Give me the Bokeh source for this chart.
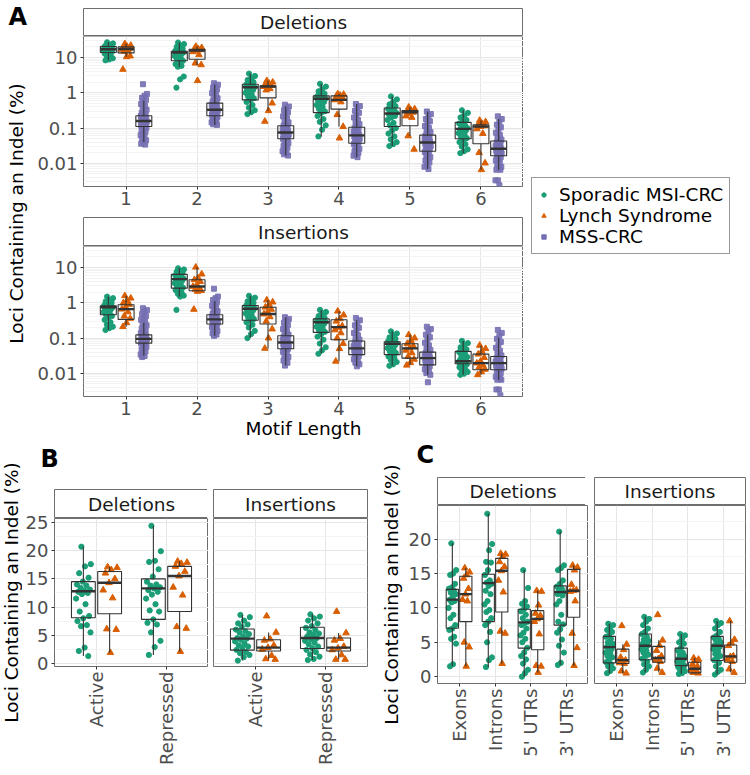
import math
from bokeh.plotting import figure
from bokeh.layouts import row, column
from bokeh.models import Range1d, FixedTicker, CustomJSTickFormatter, Legend, LegendItem, Plot
from bokeh.core.properties import value
from bokeh.embed import file_html
from bokeh.resources import INLINE

FONT = "DejaVu Sans"
GREEN, ORANGE, PURPLE = "#1B9E77", "#D95F02", "#7570B3"
BOXC = "#333333"
BORDER = "#6E6E6E"
GRID = "#E6E6E6"
GRID_MINOR = "#F3F3F3"
TICK_TXT = "#4D4D4D"
TICK_FS = "18px"
TEXT_FS = "18.5px"
HAS_FRAME_ALIGN = "frame_align" in Plot.properties()
LETTER_LIFT = 9   # bold panel letters render a little below their anchor

GROUP_NAMES = ["Sporadic MSI-CRC", "Lynch Syndrome", "MSS-CRC"]
MOTIF_LENGTHS = ["1", "2", "3", "4", "5", "6"]
CHROMATIN = ["Active", "Repressed"]
REGIONS = ["Exons", "Introns", "5' UTRs", "3' UTRs"]
FACETS = ["Deletions", "Insertions"]
LOG_TICKS = [0.01, 0.1, 1, 10]
B_TICKS = [0, 5, 10, 15, 20, 25]
C_TICKS = [0, 5, 10, 15, 20]

# ---------------- Panel A: Deletions (box = lo, q1, median, q3, hi) ----------------
A_DEL_SPORADIC = [
    [27, 25, 23.5, 22, 21, 20.5, 20, 19.5, 19, 18, 17.5, 17.2, 17, 16.5, 16, 15.5, 15, 14.5, 14, 13, 12, 10.5, 9.5, 8.8, 8.3],
    [26.6, 24, 22, 20, 18, 16.5, 15.5, 15, 14.5, 14, 13.9, 13.5, 13, 12, 11, 10, 9, 8.1, 7.5, 6.5, 5.8, 5.5, 2.9, 2.4, 1.4],
    [3.5, 3.0, 2.6, 2.3, 2.0, 1.8, 1.7, 1.6, 1.5, 1.44, 1.38, 1.3, 1.2, 1.1, 1.0, 0.9, 0.8, 0.7, 0.63, 0.55, 0.45, 0.38, 0.32, 0.28, 0.25],
    [1.8, 1.5, 1.3, 1.1, 0.95, 0.85, 0.8, 0.75, 0.7, 0.68, 0.65, 0.6, 0.55, 0.5, 0.45, 0.4, 0.35, 0.3, 0.27, 0.22, 0.18, 0.15, 0.12, 0.09, 0.058],
    [0.79, 0.65, 0.55, 0.47, 0.42, 0.38, 0.35, 0.32, 0.29, 0.27, 0.26, 0.24, 0.22, 0.2, 0.17, 0.14, 0.12, 0.1, 0.085, 0.07, 0.058, 0.048, 0.04, 0.035, 0.031],
    [0.32, 0.27, 0.23, 0.2, 0.17, 0.15, 0.135, 0.12, 0.11, 0.1, 0.095, 0.09, 0.085, 0.08, 0.072, 0.065, 0.058, 0.052, 0.045, 0.04, 0.035, 0.03, 0.025, 0.022, 0.0195],
]
A_DEL_SPORADIC_BOX = [(8.3, 13.9, 17.2, 20.5, 27), (5.5, 8.1, 13.9, 15, 26.6), (0.25, 0.63, 1.44, 1.75, 3.5),
                      (0.058, 0.275, 0.68, 0.82, 1.8), (0.031, 0.111, 0.26, 0.37, 0.79), (0.0195, 0.05, 0.095, 0.145, 0.32)]
A_DEL_LYNCH = [
    [24.5, 22, 20.5, 19, 18, 17.5, 17, 16, 15, 11, 10.5, 4.6],
    [20.5, 19, 17.8, 17, 16.5, 15.8, 14.5, 12, 6.9, 6.2, 2.2],
    [2.2, 2.0, 1.85, 1.7, 1.6, 1.55, 1.5, 1.3, 1.2, 0.51, 0.31, 0.155],
    [0.93, 0.9, 0.85, 0.8, 0.75, 0.7, 0.63, 0.55, 0.24, 0.11, 0.052],
    [0.39, 0.35, 0.32, 0.3, 0.28, 0.26, 0.22, 0.2, 0.06, 0.025],
    [0.165, 0.15, 0.135, 0.125, 0.115, 0.11, 0.095, 0.07, 0.02, 0.0102, 0.0066],
]
A_DEL_LYNCH_BOX = [(10.5, 13.5, 17.5, 20, 24.5), (6.0, 8.9, 15.8, 17.2, 20.5), (0.31, 0.72, 1.5, 1.58, 2.2),
                   (0.11, 0.345, 0.63, 0.82, 0.93), (0.06, 0.116, 0.28, 0.316, 0.39), (0.0066, 0.036, 0.11, 0.123, 0.165)]
A_DEL_MSS = [
    [1.75, 0.93, 0.82, 0.72, 0.63, 0.55, 0.48, 0.42, 0.37, 0.33, 0.30, 0.27, 0.25, 0.235, 0.22, 0.21, 0.20, 0.19, 0.18, 0.172, 0.165,
     0.158, 0.152, 0.146, 0.14, 0.134, 0.128, 0.122, 0.116, 0.11, 0.102, 0.094, 0.086, 0.078, 0.07, 0.063, 0.056, 0.05, 0.045, 0.04, 0.036, 0.034],
    [1.87, 1.7, 1.55, 1.4, 1.25, 1.1, 0.98, 0.88, 0.78, 0.7, 0.63, 0.57, 0.52, 0.49, 0.46, 0.43, 0.41, 0.39, 0.37, 0.35, 0.335,
     0.32, 0.31, 0.295, 0.28, 0.265, 0.25, 0.24, 0.228, 0.22, 0.205, 0.19, 0.178, 0.166, 0.155, 0.145, 0.136, 0.128, 0.123],
    [0.46, 0.41, 0.36, 0.32, 0.28, 0.245, 0.215, 0.19, 0.165, 0.145, 0.128, 0.118, 0.11, 0.103, 0.097, 0.091, 0.086, 0.081, 0.077, 0.074,
     0.071, 0.068, 0.065, 0.062, 0.059, 0.056, 0.053, 0.05, 0.046, 0.042, 0.038, 0.034, 0.031, 0.028, 0.025, 0.022, 0.02, 0.018, 0.0166],
    [0.48, 0.42, 0.36, 0.31, 0.27, 0.23, 0.2, 0.17, 0.148, 0.128, 0.112, 0.102, 0.094, 0.087, 0.08, 0.074, 0.069, 0.065, 0.062, 0.059,
     0.056, 0.053, 0.05, 0.047, 0.044, 0.041, 0.038, 0.035, 0.032, 0.029, 0.026, 0.024, 0.022, 0.02, 0.018, 0.0165, 0.015],
    [0.295, 0.25, 0.21, 0.18, 0.155, 0.133, 0.115, 0.1, 0.088, 0.077, 0.068, 0.062, 0.057, 0.053, 0.049, 0.046, 0.043, 0.041, 0.039,
     0.037, 0.035, 0.033, 0.031, 0.029, 0.027, 0.025, 0.023, 0.021, 0.019, 0.017, 0.015, 0.0135, 0.012, 0.0105, 0.0092, 0.008, 0.0069],
    [0.215, 0.18, 0.15, 0.125, 0.105, 0.088, 0.074, 0.063, 0.054, 0.047, 0.042, 0.039, 0.036, 0.033, 0.031, 0.029, 0.027, 0.026, 0.025,
     0.023, 0.022, 0.02, 0.019, 0.0175, 0.0164, 0.015, 0.0135, 0.012, 0.0105, 0.0092, 0.008, 0.0072, 0.0066, 0.0066, 0.0033, 0.0033, 0.0024],
]
A_DEL_MSS_BOX = [(0.04, 0.111, 0.158, 0.223, 0.6), (0.123, 0.224, 0.33, 0.51, 1.7), (0.0166, 0.05, 0.075, 0.116, 0.41),
                 (0.015, 0.037, 0.062, 0.106, 0.48), (0.0069, 0.022, 0.039, 0.063, 0.295), (0.0066, 0.0164, 0.026, 0.043, 0.18)]

# ---------------- Panel A: Insertions ----------------
A_INS_SPORADIC = [
    [1.5, 1.35, 1.2, 1.1, 1.0, 0.92, 0.85, 0.8, 0.78, 0.75, 0.72, 0.7, 0.66, 0.6, 0.55, 0.5, 0.46, 0.42, 0.38, 0.33, 0.28, 0.24, 0.21, 0.19, 0.17],
    [9.5, 8.8, 8.2, 7.6, 7.0, 6.5, 6.0, 5.6, 5.2, 4.9, 4.7, 4.5, 4.2, 3.9, 3.6, 3.3, 3.0, 2.7, 2.5, 2.3, 2.0, 1.8, 1.6, 1.5, 0.63],
    [1.58, 1.4, 1.25, 1.1, 1.0, 0.9, 0.84, 0.8, 0.75, 0.7, 0.68, 0.65, 0.6, 0.55, 0.5, 0.45, 0.4, 0.35, 0.32, 0.28, 0.24, 0.2, 0.16, 0.13, 0.1],
    [0.63, 0.55, 0.48, 0.42, 0.38, 0.35, 0.33, 0.31, 0.3, 0.29, 0.28, 0.27, 0.25, 0.23, 0.21, 0.19, 0.17, 0.15, 0.13, 0.11, 0.09, 0.07, 0.055, 0.045, 0.036],
    [0.155, 0.135, 0.12, 0.105, 0.095, 0.088, 0.082, 0.078, 0.075, 0.072, 0.069, 0.066, 0.062, 0.058, 0.052, 0.047, 0.042, 0.038, 0.034, 0.03, 0.027, 0.024, 0.021, 0.018, 0.0164],
    [0.083, 0.072, 0.063, 0.055, 0.048, 0.043, 0.04, 0.036, 0.032, 0.029, 0.026, 0.024, 0.023, 0.022, 0.021, 0.02, 0.019, 0.018, 0.017, 0.015, 0.013, 0.012, 0.011, 0.0098, 0.0091],
]
A_INS_SPORADIC_BOX = [(0.17, 0.46, 0.75, 0.82, 1.5), (1.5, 2.6, 4.7, 6.4, 9.5), (0.1, 0.32, 0.68, 0.84, 1.58),
                      (0.036, 0.145, 0.28, 0.35, 0.63), (0.0164, 0.034, 0.069, 0.079, 0.155), (0.0091, 0.0187, 0.022, 0.042, 0.083)]
A_INS_LYNCH = [
    [1.58, 1.35, 1.15, 1.0, 0.9, 0.75, 0.66, 0.55, 0.42, 0.36, 0.27, 0.21],
    [10.2, 6.5, 5.0, 4.5, 4.0, 3.2, 2.9, 2.6, 2.4, 2.2, 2.1, 0.65],
    [1.2, 1.05, 0.9, 0.75, 0.65, 0.55, 0.48, 0.4, 0.3, 0.18, 0.1, 0.051],
    [0.58, 0.45, 0.35, 0.3, 0.22, 0.2, 0.17, 0.14, 0.1, 0.07, 0.05, 0.022],
    [0.124, 0.1, 0.085, 0.07, 0.06, 0.052, 0.045, 0.038, 0.03, 0.025, 0.02, 0.017],
    [0.062, 0.05, 0.042, 0.035, 0.028, 0.022, 0.0195, 0.017, 0.015, 0.013, 0.011, 0.0091],
]
A_INS_LYNCH_BOX = [(0.21, 0.34, 0.66, 0.88, 1.58), (2.1, 2.2, 2.9, 4.5, 10.2), (0.051, 0.25, 0.48, 0.75, 1.2),
                   (0.022, 0.09, 0.204, 0.33, 0.58), (0.017, 0.027, 0.051, 0.069, 0.124), (0.0091, 0.0127, 0.0195, 0.035, 0.062)]
A_INS_MSS = [
    [0.7, 0.62, 0.55, 0.48, 0.42, 0.37, 0.33, 0.29, 0.26, 0.23, 0.205, 0.185, 0.165, 0.15, 0.138, 0.128, 0.12, 0.114, 0.108, 0.103,
     0.099, 0.095, 0.091, 0.087, 0.083, 0.079, 0.075, 0.071, 0.067, 0.062, 0.057, 0.052, 0.047, 0.042, 0.038, 0.034, 0.031, 0.029],
    [2.5, 1.5, 1.35, 1.2, 1.05, 0.92, 0.82, 0.73, 0.65, 0.58, 0.52, 0.48, 0.45, 0.42, 0.4, 0.38, 0.36, 0.345, 0.33, 0.32,
     0.305, 0.29, 0.275, 0.262, 0.25, 0.235, 0.22, 0.205, 0.19, 0.175, 0.16, 0.148, 0.136, 0.126, 0.116],
    [0.39, 0.35, 0.31, 0.27, 0.235, 0.205, 0.18, 0.158, 0.14, 0.125, 0.115, 0.107, 0.1, 0.094, 0.088, 0.083, 0.079, 0.075,
     0.072, 0.068, 0.065, 0.062, 0.058, 0.055, 0.052, 0.049, 0.045, 0.041, 0.037, 0.033, 0.029, 0.026, 0.023, 0.02, 0.0166],
    [0.37, 0.32, 0.27, 0.23, 0.195, 0.165, 0.14, 0.12, 0.103, 0.09, 0.081, 0.074, 0.068, 0.063, 0.059, 0.055, 0.052, 0.05,
     0.047, 0.045, 0.042, 0.04, 0.038, 0.036, 0.034, 0.031, 0.028, 0.025, 0.022, 0.02, 0.018, 0.0158],
    [0.21, 0.18, 0.15, 0.125, 0.105, 0.088, 0.074, 0.062, 0.053, 0.046, 0.041, 0.038, 0.035, 0.033, 0.031, 0.029, 0.028,
     0.027, 0.026, 0.024, 0.023, 0.022, 0.02, 0.019, 0.0175, 0.016, 0.0145, 0.013, 0.0115, 0.0102, 0.0091, 0.0056],
    [0.17, 0.14, 0.115, 0.095, 0.078, 0.064, 0.053, 0.044, 0.037, 0.032, 0.029, 0.027, 0.025, 0.023, 0.0215, 0.0205, 0.0195,
     0.0185, 0.0175, 0.0165, 0.0155, 0.0145, 0.0135, 0.0127, 0.0115, 0.0102, 0.009, 0.008, 0.0072, 0.0066, 0.0066, 0.0035, 0.0035, 0.0024],
]
A_INS_MSS_BOX = [(0.032, 0.072, 0.095, 0.123, 0.27), (0.116, 0.25, 0.34, 0.46, 1.1), (0.0166, 0.05, 0.075, 0.116, 0.39),
                 (0.0158, 0.034, 0.051, 0.083, 0.32), (0.0091, 0.0174, 0.027, 0.04, 0.125), (0.0066, 0.0127, 0.0195, 0.03, 0.1)]

# ---------------- Panel B: chromatin state ----------------
B_DEL_SPORADIC = [
    [20.7, 17.6, 17.2, 16.0, 15.2, 14.5, 14.0, 13.8, 13.4, 13.1, 12.9, 12.7, 12.5, 12.3, 11.5, 10.5, 9.2, 8.4, 8.0, 7.5, 6.8, 6.6, 5.5, 2.8, 2.2, 1.3],
    [24.4, 19.9, 18.2, 18.0, 16.7, 15.4, 14.5, 14.0, 13.8, 13.5, 13.3, 13.0, 12.7, 12.2, 11.5, 10.5, 9.4, 9.2, 7.8, 7.2, 6.9, 5.5, 4.0, 2.9, 1.5],
]
B_DEL_SPORADIC_BOX = [(1.3, 8.1, 12.8, 14.5, 20.7), (1.5, 7.8, 13.3, 15.0, 24.4)]
B_DEL_LYNCH = [
    [17.1, 17.0, 16.6, 16.0, 15.0, 14.3, 13.0, 11.6, 6.1, 6.0, 1.9],
    [18.1, 17.9, 17.7, 17.2, 16.3, 15.5, 13.5, 12.1, 6.5, 6.2, 2.1],
]
B_DEL_LYNCH_BOX = [(1.9, 8.8, 14.3, 16.3, 17.1), (2.1, 9.2, 15.5, 17.2, 18.1)]
B_INS_SPORADIC = [
    [8.6, 8.2, 7.6, 7.1, 6.9, 6.5, 6.0, 5.7, 5.5, 5.2, 4.8, 4.5, 4.4, 4.2, 3.9, 3.5, 3.2, 3.0, 2.8, 2.4, 2.0, 1.8, 1.5, 1.1, 0.5],
    [8.7, 8.3, 8.0, 7.6, 7.1, 6.6, 6.3, 5.9, 5.5, 5.3, 5.1, 4.8, 4.5, 4.3, 4.0, 3.7, 3.4, 3.0, 2.7, 2.4, 2.0, 1.6, 1.2, 0.8, 0.6],
]
B_INS_SPORADIC_BOX = [(0.5, 2.35, 4.4, 6.1, 8.6), (0.6, 2.65, 4.5, 6.4, 8.7)]
B_INS_LYNCH = [
    [8.4, 5.5, 4.3, 4.1, 3.2, 2.8, 2.5, 1.4, 0.8, 0.7],
    [9.2, 5.4, 4.4, 4.1, 3.0, 2.7, 2.4, 1.5, 0.7, 0.7],
]
B_INS_LYNCH_BOX = [(0.7, 2.2, 2.8, 4.2, 5.5), (0.7, 2.2, 2.8, 4.5, 5.4)]

# ---------------- Panel C: genomic region ----------------
C_DEL_SPORADIC = [
    [19.4, 15.5, 15.0, 14.8, 13.5, 13.0, 12.8, 12.5, 12.2, 12.0, 11.5, 11.2, 11.0, 10.8, 10.0, 9.0, 8.5, 7.5, 7.0, 6.8, 5.8, 5.5, 4.8, 1.8, 1.5],
    [23.7, 19.3, 18.4, 16.7, 16.6, 15.5, 14.8, 14.0, 13.7, 13.5, 13.2, 12.5, 12.0, 11.0, 10.5, 9.7, 9.4, 8.5, 8.0, 7.5, 6.5, 5.0, 2.8, 2.4, 1.4],
    [15.5, 12.9, 11.0, 10.6, 10.2, 9.8, 9.5, 9.0, 8.5, 8.0, 7.8, 7.5, 7.0, 6.4, 6.0, 5.5, 5.0, 4.2, 3.5, 3.0, 2.5, 1.9, 1.0, 0.5, 0.0],
    [21.1, 16.2, 15.8, 15.5, 14.0, 13.5, 13.1, 12.8, 12.5, 12.3, 12.1, 12.0, 11.8, 11.0, 10.5, 9.0, 8.0, 7.6, 6.9, 6.4, 5.4, 4.5, 3.5, 2.0, 1.7],
]
C_DEL_SPORADIC_BOX = [(1.5, 7.05, 11.2, 12.7, 19.4), (1.4, 8.0, 13.6, 14.9, 23.7), (0.0, 4.15, 7.9, 9.8, 15.5), (1.7, 7.5, 12.3, 13.2, 21.1)]
C_DEL_LYNCH = [
    [15.8, 15.2, 14.8, 14.3, 12.8, 12.0, 11.2, 11.0, 5.0, 4.3, 1.5],
    [17.9, 17.8, 17.5, 16.7, 16.0, 15.4, 14.0, 12.3, 6.6, 6.3, 1.9],
    [12.5, 12.4, 10.4, 9.2, 8.9, 8.4, 8.0, 6.2, 1.6, 1.5, 0.6],
    [16.2, 15.9, 15.5, 13.4, 12.6, 12.5, 12.4, 11.0, 6.3, 4.2, 1.6],
]
C_DEL_LYNCH_BOX = [(1.5, 8.0, 12.0, 14.6, 15.8), (1.9, 9.4, 15.4, 17.2, 17.9), (0.6, 3.9, 8.4, 9.6, 12.5), (1.6, 8.65, 12.5, 15.6, 16.2)]
C_INS_SPORADIC = [
    [7.7, 7.5, 7.2, 6.8, 6.5, 6.0, 5.8, 5.5, 5.0, 4.8, 4.5, 4.3, 4.0, 3.7, 3.5, 3.3, 3.0, 2.8, 2.5, 2.1, 1.8, 1.5, 1.2, 0.8, 0.5],
    [8.7, 8.4, 8.0, 7.5, 7.0, 6.5, 6.2, 5.8, 5.4, 5.2, 5.0, 4.8, 4.5, 4.3, 4.0, 3.8, 3.5, 3.2, 3.0, 2.6, 2.2, 1.8, 1.5, 1.0, 0.6],
    [6.2, 6.0, 5.5, 5.0, 4.8, 4.2, 3.8, 3.5, 3.2, 3.0, 2.8, 2.6, 2.5, 2.3, 2.2, 2.0, 1.8, 1.6, 1.5, 1.4, 1.2, 1.0, 0.8, 0.5, 0.4],
    [8.1, 7.8, 7.5, 7.0, 6.5, 6.0, 5.7, 5.5, 5.3, 5.0, 4.7, 4.5, 4.3, 4.2, 4.0, 3.6, 3.3, 3.0, 2.7, 2.4, 2.0, 1.5, 1.0, 0.7, 0.3],
]
C_INS_SPORADIC_BOX = [(0.5, 2.0, 4.3, 5.85, 7.7), (0.6, 2.45, 4.5, 6.2, 8.7), (0.4, 1.6, 2.6, 4.15, 6.2), (0.3, 2.35, 4.5, 5.85, 8.1)]
C_INS_LYNCH = [
    [7.4, 4.7, 3.9, 2.8, 2.4, 2.2, 2.0, 1.9, 0.8, 0.5],
    [9.0, 5.3, 4.5, 3.8, 3.0, 2.6, 2.4, 2.2, 1.2, 0.6],
    [2.7, 2.5, 2.3, 1.8, 1.5, 1.2, 1.0, 0.8, 0.6, 0.5],
    [8.1, 5.4, 4.9, 4.5, 3.0, 2.9, 2.5, 2.2, 1.1, 0.6],
]
C_INS_LYNCH_BOX = [(0.5, 1.9, 2.4, 4.0, 4.7), (0.6, 2.1, 2.7, 4.4, 5.3), (0.5, 0.55, 1.15, 2.1, 2.7), (0.6, 2.1, 2.95, 4.6, 8.1)]

MARKERS = {"Sporadic MSI-CRC": ("circle", GREEN, 5.2, 1.0),
           "Lynch Syndrome": ("triangle", ORANGE, 6.5, 1.0),
           "MSS-CRC": ("square", PURPLE, 5.0, 0.9)}


def jitter_offsets(n, half):
    return [half * (2.0 * ((i * 0.6180339887 + 0.37) % 1.0) - 1.0) for i in range(n)]


def blank(w, h):
    p = figure(width=w, height=h, x_range=Range1d(0, w), y_range=Range1d(0, h),
               x_axis_location=None, y_axis_location=None, toolbar_location=None,
               output_backend="svg", min_border=0)
    p.grid.visible = False
    p.outline_line_color = None
    p.background_fill_color = "white"
    p.border_fill_color = "white"
    if HAS_FRAME_ALIGN:
        p.frame_align = False
    return p


def put_text(p, x, y, txt, size, bold=False, angle=0.0, align="left", baseline="alphabetic"):
    p.text(x=[x], y=[y], text=[txt], angle=angle, text_align=align, text_baseline=baseline,
           text_font=value(FONT), text_font_size=size, text_font_style="bold" if bold else "normal",
           text_color="black")


def strip(frame_w, frame_h, left, right, label, top=0):
    p = figure(frame_width=frame_w, frame_height=frame_h, x_range=Range1d(0, 1), y_range=Range1d(0, 1),
               x_axis_location=None, y_axis_location=None, toolbar_location=None, output_backend="svg",
               min_border_left=left, min_border_right=right, min_border_top=top, min_border_bottom=0)
    p.grid.visible = False
    p.outline_line_color = BORDER
    p.outline_line_width = 1
    p.text(x=[0.5], y=[0.5], text=[label], text_align="center", text_baseline="middle",
           text_font=value(FONT), text_font_size=TEXT_FS, text_color="#1A1A1A")
    return p


def panel(frame_w, frame_h, ncat, y_range, log, left, right, bottom, show_y, yticks, yminor, xlabels, rotate, top=0):
    p = figure(frame_width=frame_w, frame_height=frame_h, x_range=Range1d(0.4, ncat + 0.6), y_range=y_range,
               y_axis_type="log" if log else "linear", y_axis_location="left" if show_y else None,
               toolbar_location=None, output_backend="svg",
               min_border_left=left, min_border_right=right, min_border_top=top, min_border_bottom=bottom)
    p.background_fill_color = "white"
    p.border_fill_color = "white"
    p.outline_line_color = BORDER
    p.outline_line_width = 1
    yt = FixedTicker(ticks=yticks, minor_ticks=yminor)
    xt = FixedTicker(ticks=list(range(1, ncat + 1)), minor_ticks=[])
    p.xgrid.ticker = xt
    p.ygrid.ticker = yt
    for g in (p.xgrid[0], p.ygrid[0]):
        g.grid_line_color = GRID
        g.grid_line_width = 1
    p.ygrid.minor_grid_line_color = GRID_MINOR
    p.ygrid.minor_grid_line_width = 1
    axes = [p.xaxis[0]] + ([p.yaxis[0]] if show_y else [])
    p.xaxis.ticker = xt
    p.xaxis.major_label_overrides = {i + 1: lab for i, lab in enumerate(xlabels)}
    if show_y:
        p.yaxis.ticker = yt
        if log:
            p.yaxis.formatter = CustomJSTickFormatter(code="return String(tick);")
    for ax in axes:
        ax.axis_line_color = None
        ax.major_tick_line_color = BOXC
        ax.major_tick_out = 3
        ax.major_tick_in = 0
        ax.minor_tick_line_color = None
        ax.major_label_standoff = 2
        ax.major_label_text_font = FONT
        ax.major_label_text_font_size = TICK_FS
        ax.major_label_text_color = TICK_TXT
        ax.axis_label_text_font = FONT
        ax.axis_label_text_font_size = TEXT_FS
        ax.axis_label_text_font_style = "normal"
        ax.axis_label_text_color = "black"
        ax.axis_label_standoff = 0
    if rotate:
        p.xaxis.major_label_orientation = math.pi / 2
    return p


def draw_series(p, series, offsets, box_w, jit_frac):
    for (name, pts, boxes), off in zip(series, offsets):
        marker, color, size, alpha = MARKERS[name]
        xs, ys = [], []
        jf = jit_frac[name]
        for ci, vals in enumerate(pts):
            for v, o in zip(vals, jitter_offsets(len(vals), jf * box_w)):
                xs.append(ci + 1 + off + o)
                ys.append(v)
        p.scatter(xs, ys, marker=marker, size=size, fill_color=color, line_color=color,
                  fill_alpha=alpha, line_alpha=alpha)
    for (name, pts, boxes), off in zip(series, offsets):
        bx = [ci + 1 + off for ci in range(len(boxes))]
        lo = [b[0] for b in boxes]
        q1 = [b[1] for b in boxes]
        md = [b[2] for b in boxes]
        q3 = [b[3] for b in boxes]
        hi = [b[4] for b in boxes]
        p.segment(x0=bx, y0=q3, x1=bx, y1=hi, line_color=BOXC, line_width=1.1)
        p.segment(x0=bx, y0=lo, x1=bx, y1=q1, line_color=BOXC, line_width=1.1)
        p.vbar(x=bx, width=box_w, top=q3, bottom=q1, fill_color=None, line_color=BOXC, line_width=1.1)
        p.segment(x0=[x - box_w / 2 for x in bx], y0=md, x1=[x + box_w / 2 for x in bx], y1=md,
                  line_color=BOXC, line_width=2.4)


LOG_MINOR = [m * 10.0 ** e for e in range(-3, 2) for m in range(2, 10)]
LIN_MINOR = [2.5, 7.5, 12.5, 17.5, 22.5]
A_RANGE = (0.00221, 39.4)
JIT_A = {"Sporadic MSI-CRC": 0.3, "Lynch Syndrome": 0.3, "MSS-CRC": 0.2}
JIT_BC = {"Sporadic MSI-CRC": 0.32, "Lynch Syndrome": 0.32}

# ---------------- Top row: panel A ----------------
TOP_H = 446
a_lab = blank(30, TOP_H)
put_text(a_lab, 8, TOP_H - 25 + LETTER_LIFT, "A", "24px", bold=True)
put_text(a_lab, 16, TOP_H - 213, "Loci Containing an Indel (%)", TEXT_FS, angle=math.pi / 2,
         align="center", baseline="middle")

a_del = panel(440, 150, 6, Range1d(*A_RANGE), True, 53, 0, 31, True, LOG_TICKS, LOG_MINOR, MOTIF_LENGTHS, False)
draw_series(a_del, [("Sporadic MSI-CRC", A_DEL_SPORADIC, A_DEL_SPORADIC_BOX),
                    ("Lynch Syndrome", A_DEL_LYNCH, A_DEL_LYNCH_BOX),
                    ("MSS-CRC", A_DEL_MSS, A_DEL_MSS_BOX)], [-0.25, 0.0, 0.25], 0.225, JIT_A)
a_ins = panel(440, 150, 6, Range1d(*A_RANGE), True, 53, 0, 50, True, LOG_TICKS, LOG_MINOR, MOTIF_LENGTHS, False)
draw_series(a_ins, [("Sporadic MSI-CRC", A_INS_SPORADIC, A_INS_SPORADIC_BOX),
                    ("Lynch Syndrome", A_INS_LYNCH, A_INS_LYNCH_BOX),
                    ("MSS-CRC", A_INS_MSS, A_INS_MSS_BOX)], [-0.25, 0.0, 0.25], 0.225, JIT_A)
a_ins.xaxis.axis_label = "Motif Length"

a_col = column(strip(440, 28, 53, 0, FACETS[0], top=8), a_del, strip(440, 29, 53, 0, FACETS[1]), a_ins, spacing=0)

leg_fig = blank(219, TOP_H)
leg_items = []
for name in GROUP_NAMES:
    marker, color, size, alpha = MARKERS[name]
    r = leg_fig.scatter(x=[-1000], y=[-1000], marker=marker, size=size, fill_color=color, line_color=color)
    leg_items.append(LegendItem(label=name, renderers=[r]))
legend = Legend(items=leg_items, location=(8, TOP_H - 254), orientation="vertical",
                border_line_color="#333333", border_line_width=1, background_fill_color="white",
                background_fill_alpha=1.0, padding=6, spacing=0, margin=0,
                label_text_font=FONT, label_text_font_size=TEXT_FS, label_text_color="black",
                label_height=19, glyph_height=19, glyph_width=11, label_standoff=10)
leg_fig.add_layout(legend)

top_row = row(a_lab, a_col, leg_fig, spacing=0)

# ---------------- Bottom row: panels B and C ----------------
BOT_H = 321
OVER = 10   # plot canvas reaches up behind the strip so top tick labels are not cut
b_lab = blank(22, BOT_H)
put_text(b_lab, 11, BOT_H - 146, "Loci Containing an Indel (%)", TEXT_FS, angle=math.pi / 2,
         align="center", baseline="middle")
b_head = blank(185, 43)
put_text(b_head, 18, 22 + LETTER_LIFT, "B", "24px", bold=True)

b_yr = (-0.55, 25.7)
b_del = panel(154, 148, 2, Range1d(*b_yr), False, 31, 0, 101, True, B_TICKS, LIN_MINOR, CHROMATIN, True, top=OVER)
draw_series(b_del, [("Sporadic MSI-CRC", B_DEL_SPORADIC, B_DEL_SPORADIC_BOX),
                    ("Lynch Syndrome", B_DEL_LYNCH, B_DEL_LYNCH_BOX)], [-0.1875, 0.1875], 0.34, JIT_BC)
b_ins = panel(154, 148, 2, Range1d(*b_yr), False, 5, 2, 101, False, B_TICKS, LIN_MINOR, CHROMATIN, True, top=OVER)
draw_series(b_ins, [("Sporadic MSI-CRC", B_INS_SPORADIC, B_INS_SPORADIC_BOX),
                    ("Lynch Syndrome", B_INS_LYNCH, B_INS_LYNCH_BOX)], [-0.1875, 0.1875], 0.34, JIT_BC)
for fig in (b_del, b_ins):
    fig.border_fill_alpha = 0.0
    fig.margin = (-OVER, 0, 0, 0)
b_del_col = column(b_head, strip(154, 29, 31, 0, FACETS[0]), b_del, spacing=0)
b_ins_col = column(blank(161, 43), strip(154, 29, 5, 2, FACETS[1]), b_ins, spacing=0)

c_lab = blank(36, BOT_H)
put_text(c_lab, 22, BOT_H - 148, "Loci Containing an Indel (%)", TEXT_FS, angle=math.pi / 2,
         align="center", baseline="middle")
C_UP = 9    # header canvas reaches up into the empty area above it
c_head = blank(180, 31 + C_UP)
c_head.background_fill_alpha = 0.0
c_head.border_fill_alpha = 0.0
c_head.margin = (-C_UP, 0, 0, 0)
put_text(c_head, 11, 14 + LETTER_LIFT, "C", "24px", bold=True)

c_yr = (-1.0, 24.9)
c_del = panel(151, 178, 4, Range1d(*c_yr), False, 29, 0, 84, True, C_TICKS, LIN_MINOR, REGIONS, True)
draw_series(c_del, [("Sporadic MSI-CRC", C_DEL_SPORADIC, C_DEL_SPORADIC_BOX),
                    ("Lynch Syndrome", C_DEL_LYNCH, C_DEL_LYNCH_BOX)], [-0.1875, 0.1875], 0.34, JIT_BC)
c_ins = panel(151, 178, 4, Range1d(*c_yr), False, 6, 1, 84, False, C_TICKS, LIN_MINOR, REGIONS, True)
draw_series(c_ins, [("Sporadic MSI-CRC", C_INS_SPORADIC, C_INS_SPORADIC_BOX),
                    ("Lynch Syndrome", C_INS_LYNCH, C_INS_LYNCH_BOX)], [-0.1875, 0.1875], 0.34, JIT_BC)
c_del_col = column(c_head, strip(151, 28, 29, 0, FACETS[0]), c_del, spacing=0)
c_ins_col = column(blank(158, 31), strip(151, 28, 6, 1, FACETS[1]), c_ins, spacing=0)

bottom_row = row(b_lab, b_del_col, b_ins_col, c_lab, c_del_col, c_ins_col, spacing=0)

layout = column(top_row, bottom_row, spacing=0)

open("out.html", "w").write(file_html(layout, INLINE))
